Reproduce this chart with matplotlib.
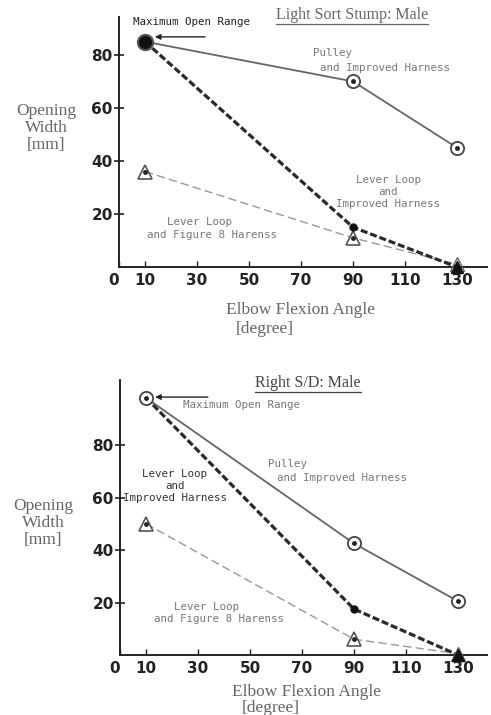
import matplotlib
matplotlib.use("Agg")
import matplotlib.pyplot as plt
from matplotlib.lines import Line2D

W, H = 491, 715

# elbow flexion angle [degree]
angles = [10, 90, 130]
tick_vals = [0, 10, 30, 50, 70, 90, 110, 130]

# opening width [mm] -- light sort stump
top_pulley = [85, 70, 45]
top_lever_improved = [85, 15, 0]
top_lever_fig8 = [36, 11, 1]

# opening width [mm] -- right S/D
bot_pulley = [98, 42.5, 20.5]
bot_lever_improved = [98, 17.5, 0]
bot_lever_fig8 = [50, 6, 0.5]

yticks = [20, 40, 60, 80]

SERIF = ["Liberation Serif", "DejaVu Serif"]
MONO = ["DejaVu Sans Mono"]
GREY_TXT = "#666666"


def fx(x):
    return x / W


def fy(y):
    return 1 - y / H


fig = plt.figure(figsize=(W / 100, H / 100), dpi=100)
fig.patch.set_facecolor("white")


def make_axes(left, right, top, bottom, ymax):
    ax = fig.add_axes([fx(left), fy(bottom), fx(right - left), (bottom - top) / H])
    ax.set_xlim(0, (right - left) / 2.6)
    ax.set_ylim(0, ymax)
    for s in ("top", "right"):
        ax.spines[s].set_visible(False)
    for s in ("left", "bottom"):
        ax.spines[s].set_linewidth(1.4)
        ax.spines[s].set_color("#222222")
    ax.set_xticks(tick_vals)
    ax.set_xticklabels([str(v) for v in tick_vals])
    ax.set_yticks(yticks)
    ax.tick_params(axis="x", direction="in", length=4, width=1, pad=4,
                   labelsize=11, colors="#222222")
    ax.tick_params(axis="y", direction="inout", length=7, width=1.2, pad=1,
                   labelsize=11, colors="#222222")
    for lab in ax.get_xticklabels() + ax.get_yticklabels():
        lab.set_fontweight("bold")
    ax.get_xticklabels()[0].set_horizontalalignment("right")
    ax.set_facecolor("none")
    return ax


def draw_series(ax, pulley, lever_imp, fig8, start_filled):
    # lines
    ax.plot(angles, pulley, "-", color="#666666", lw=1.3, zorder=2, clip_on=False)
    ax.plot(angles, lever_imp, color="#2a2a2a", lw=2.3, ls=(0, (2.2, 0.9)),
            zorder=3, clip_on=False)
    ax.plot(angles, fig8, color="#999999", lw=1.0, ls=(0, (6, 3)),
            zorder=2, clip_on=False)
    # pulley: ringed circles with centre dot
    ax.plot(angles, pulley, "o", ms=9.5, mfc="white", mec="#444444", mew=1.3,
            zorder=5, clip_on=False)
    ax.plot(angles, pulley, "o", ms=2.5, color="#222222", zorder=6, clip_on=False)
    if start_filled:
        ax.plot(angles[0], pulley[0], "o", ms=11, mfc="#111111", mec="#555555",
                mew=1.5, zorder=7, clip_on=False)
    # figure 8 harness: open triangles with dot
    ax.plot(angles[:2], fig8[:2], "^", ms=10, mfc="white", mec="#555555", mew=1.2,
            zorder=5, clip_on=False)
    ax.plot(angles[:2], fig8[:2], "o", ms=2.5, color="#222222", zorder=6, clip_on=False)
    ax.plot(angles[2], fig8[2], "^", ms=10, mfc="none", mec="#666666", mew=1.0,
            zorder=5, clip_on=False)
    # lever loop + improved harness
    ax.plot(angles[1], lever_imp[1], "o", ms=5, color="#111111", zorder=6, clip_on=False)
    ax.plot(angles[2], lever_imp[2], "^", ms=9, color="#111111", zorder=6, clip_on=False)


def mono(ax, x, y, s, color="#777777", ha="left", **kw):
    ax.text(x, y, s, fontsize=7.8, family=MONO, color=color, ha=ha, va="center",
            clip_on=False, **kw)


def arrow(ax, x0, x1, y):
    ax.annotate("", xy=(x1, y), xytext=(x0, y),
                arrowprops=dict(arrowstyle="-|>", color="#222222", lw=1.0,
                                mutation_scale=8, shrinkA=0, shrinkB=0),
                annotation_clip=False)


# ---------- upper panel ----------
ax1 = make_axes(119, 487, 17, 267, 94.3)
draw_series(ax1, top_pulley, top_lever_improved, top_lever_fig8, True)
mono(ax1, 5.4, 92.5, "Maximum Open Range", color="#222222")
arrow(ax1, 33.1, 13.8, 86.8)
mono(ax1, 74.6, 80.8, "Pulley")
mono(ax1, 77.3, 75.1, "and Improved Harness")
mono(ax1, 103.5, 28.3, "Lever Loop\nand\nImproved Harness", ha="center",
     multialignment="center", linespacing=1.25)
mono(ax1, 30.8, 17.0, "Lever Loop", ha="center")
mono(ax1, 35.8, 12.1, "and Figure 8 Harenss", ha="center")

# ---------- lower panel ----------
ax2 = make_axes(120, 487, 380, 655, 104.8)
draw_series(ax2, bot_pulley, bot_lever_improved, bot_lever_fig8, False)
mono(ax2, 24.2, 95.2, "Maximum Open Range")
arrow(ax2, 33.8, 13.5, 98.3)
mono(ax2, 56.9, 72.8, "Pulley")
mono(ax2, 60.4, 67.4, "and Improved Harness")
mono(ax2, 21.0, 64.4, "Lever Loop\nand\nImproved Harness", color="#333333",
     ha="center", multialignment="center", linespacing=1.25)
mono(ax2, 33.1, 18.3, "Lever Loop", ha="center")
mono(ax2, 38.1, 13.7, "and Figure 8 Harenss", ha="center")

# ---------- axis captions and panel titles ----------
for x, y in [(46, 128), (43, 523)]:
    fig.text(fx(x), fy(y), "Opening\nWidth\n[mm]", family=SERIF, fontsize=12.5,
             color=GREY_TXT, ha="center", va="center", linespacing=1.05)

for x, y, x2, y2 in [(301, 310, 265, 329), (307, 692, 271, 708)]:
    fig.text(fx(x), fy(y), "Elbow Flexion Angle", family=SERIF, fontsize=12.5,
             color=GREY_TXT, ha="center", va="center")
    fig.text(fx(x2), fy(y2), "[degree]", family=SERIF, fontsize=12.5,
             color=GREY_TXT, ha="center", va="center")

titles = [fig.text(fx(352), fy(15), "Light Sort Stump: Male", family=SERIF,
                   fontsize=11.5, color=GREY_TXT, ha="center", va="center"),
          fig.text(fx(308), fy(383), "Right S/D: Male", family=SERIF,
                   fontsize=11.5, color="#444444", ha="center", va="center")]

fig.canvas.draw()
rend = fig.canvas.get_renderer()
for t in titles:
    bb = t.get_window_extent(rend)
    yline = (bb.y0 - 1) / fig.bbox.height
    fig.add_artist(Line2D([bb.x0 / fig.bbox.width, bb.x1 / fig.bbox.width],
                          [yline, yline], color=t.get_color(), lw=0.9))

fig.savefig("out.png", dpi=100, facecolor="white")
